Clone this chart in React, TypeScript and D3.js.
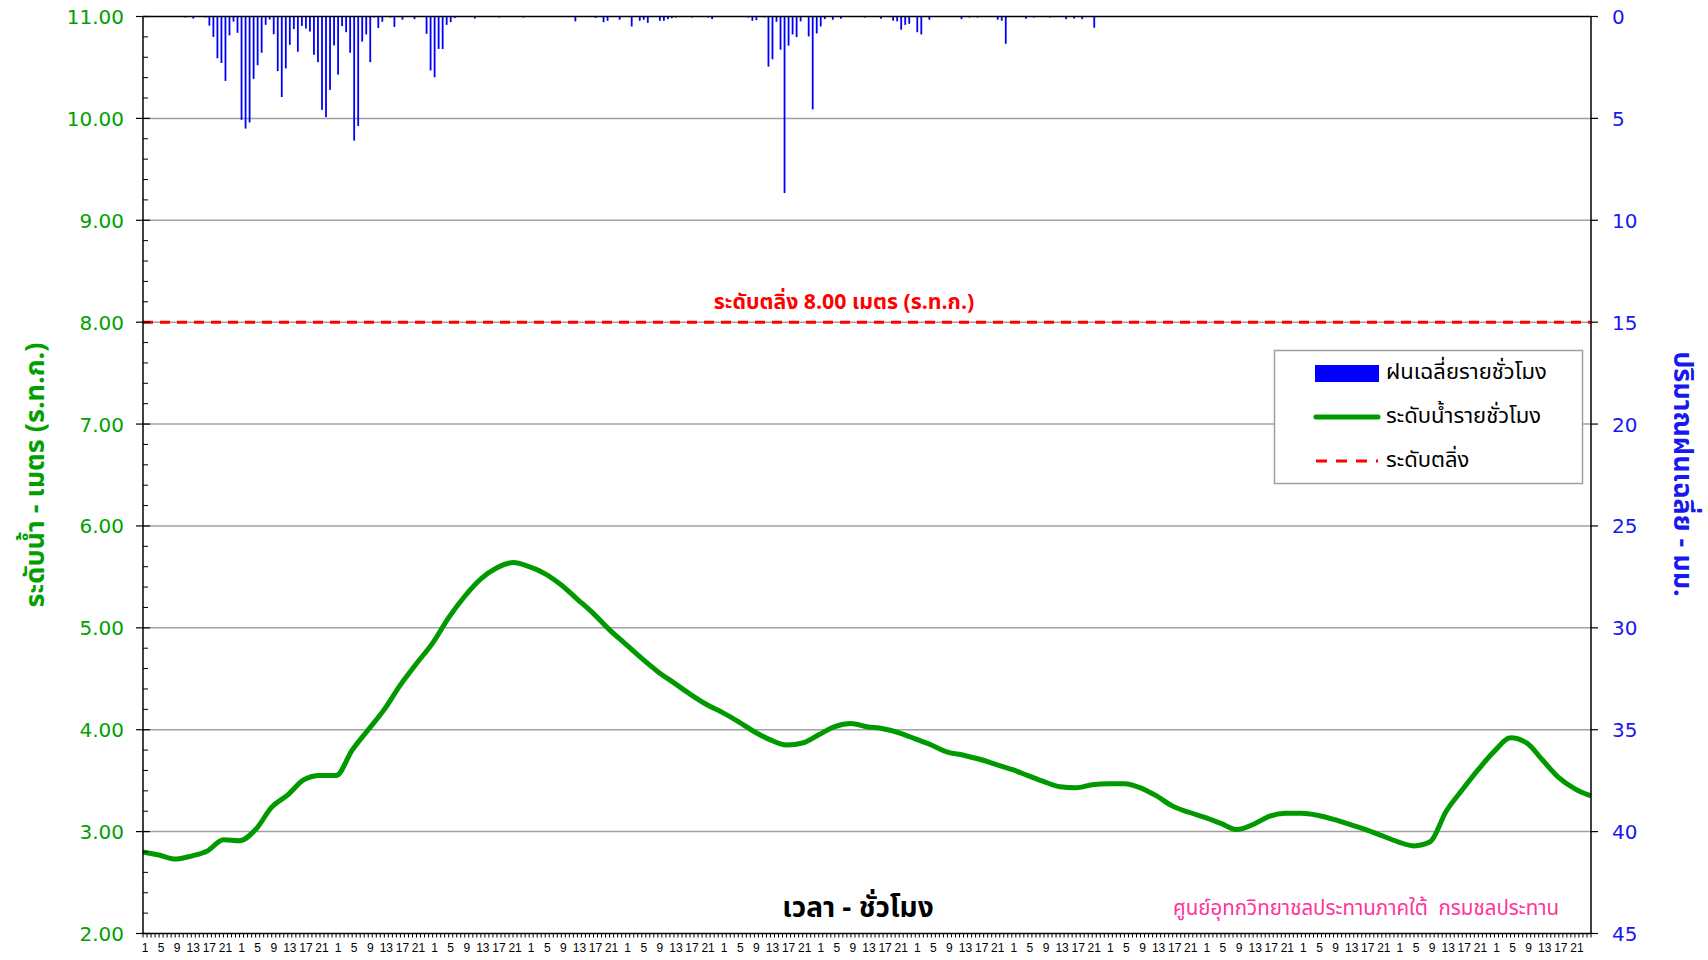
import React from "react";
import * as d3 from "d3";

// ---------- DATA ----------
const DAYS = 15;
const HOURS_PER_DAY = 24;
const hourTickLabels = ["1", "5", "9", "13", "17", "21"];
const levelTicks = [2, 3, 4, 5, 6, 7, 8, 9, 10, 11];
const rainTicks = [0, 5, 10, 15, 20, 25, 30, 35, 40, 45];
const bankLevel = 8.0;

// water level (m, MSL) read every 4 hours, hour 0 .. 360
const levelStepHours = 4;
const waterLevel = [
  2.80, 2.77, 2.73, 2.76, 2.81, 2.92, 2.91, 3.02, 3.24, 3.36,
  3.51, 3.55, 3.55, 3.80, 4.00, 4.20, 4.44, 4.65, 4.85, 5.10,
  5.31, 5.48, 5.59, 5.64, 5.60, 5.53, 5.42, 5.28, 5.14, 4.98,
  4.84, 4.70, 4.57, 4.46, 4.35, 4.25, 4.17, 4.08, 3.98, 3.90,
  3.85, 3.87, 3.95, 4.03, 4.06, 4.03, 4.01, 3.97, 3.91, 3.85,
  3.78, 3.75, 3.71, 3.66, 3.61, 3.55, 3.49, 3.44, 3.43, 3.46,
  3.47, 3.47, 3.43, 3.35, 3.25, 3.19, 3.14, 3.08, 3.02, 3.07,
  3.15, 3.18, 3.18, 3.16, 3.12, 3.07, 3.02, 2.96, 2.90, 2.86,
  2.90, 3.20, 3.41, 3.61, 3.79, 3.92, 3.87, 3.70, 3.53, 3.42,
  3.35,
];

// hourly rainfall (mm): hour index and value
const rainHour = [
  10, 12, 15, 16, 17, 18, 19, 20, 21, 22, 23, 24, 25, 26, 27, 28, 29, 30, 31, 32,
  33, 34, 35, 36, 37, 38, 39, 40, 41, 42, 43, 44, 45, 46, 47, 48, 49, 50, 51, 52,
  53, 54, 55, 56, 57, 58, 59, 61, 62, 63, 64, 67, 70, 71, 72, 73, 74, 75, 76, 77,
  82, 88, 94, 107, 112, 114, 115, 118, 121, 123, 124, 125, 128, 129, 130, 131, 132, 136, 140, 141,
  150, 151, 152, 154, 155, 156, 157, 158, 159, 160, 161, 162, 163, 165, 166, 167, 168, 169, 171, 173,
  179, 183, 186, 187, 188, 189, 190, 192, 193, 195, 203, 205, 207, 212, 213, 214, 219, 221, 225, 226,
  229, 231, 233, 234, 236,
];
const rainMm = [
  0.05, 0.1, 0.05, 0.45, 1.0, 2.05, 2.28, 3.16, 0.93, 0.25, 0.8, 5.07, 5.5, 5.2, 3.06, 2.39, 1.78, 0.41, 0.15, 0.87,
  2.68, 3.95, 2.55, 1.39, 0.62, 1.73, 0.46, 0.59, 0.74, 1.88, 2.24, 4.58, 4.94, 3.6, 1.42, 2.85, 0.47, 0.77, 1.78, 6.09,
  5.37, 1.23, 0.88, 2.24, 0.05, 0.56, 0.26, 0.05, 0.51, 0.03, 0.16, 0.13, 0.85, 2.65, 2.98, 1.59, 1.6, 0.41, 0.28, 0.08,
  0.1, 0.05, 0.05, 0.24, 0.07, 0.28, 0.21, 0.16, 0.49, 0.21, 0.16, 0.31, 0.21, 0.21, 0.13, 0.08, 0.05, 0.05, 0.05, 0.13,
  0.05, 0.21, 0.18, 0.05, 2.46, 2.1, 0.26, 1.63, 8.66, 1.43, 0.88, 1.01, 0.24, 0.98, 4.56, 0.83, 0.49, 0.13, 0.16, 0.11,
  0.05, 0.11, 0.21, 0.24, 0.65, 0.41, 0.36, 0.77, 0.88, 0.16, 0.13, 0.05, 0.05, 0.16, 0.21, 1.34, 0.11, 0.05, 0.05, 0.03,
  0.13, 0.1, 0.13, 0.03, 0.55,
];

// texts
const leftTitle = "ระดับน้ำ - เมตร (ร.ท.ก.)";
const rightTitle = "ปริมาณฝนเฉลี่ย - มม.";
const xTitle = "เวลา - ชั่วโมง";
const bankLabel = "ระดับตลิ่ง 8.00 เมตร (ร.ท.ก.)";
const credit = "ศูนย์อุทกวิทยาชลประทานภาคใต้\u00A0\u00A0กรมชลประทาน";
const legendItems = ["ฝนเฉลี่ยรายชั่วโมง", "ระดับน้ำรายชั่วโมง", "ระดับตลิ่ง"];

// ---------- LAYOUT ----------
const W = 1708;
const H = 960;
const L = 143;
const R = 1591;
const T = 16.5;
const B = 933.5;

const GREEN_TXT = "#00A000";
const GREEN_LINE = "#009A00";
const BLUE = "#0000FF";
const BLUE_TXT = "#1818F0";
const RED = "#FF0000";
const PINK = "#FF3399";
const GRID = "#A0A0A0";
const THAI = "Tahoma, 'Noto Sans Thai', 'Noto Sans', 'DejaVu Sans', sans-serif";
const NUM = "'DejaVu Sans', Verdana, sans-serif";

export default function App() {
  const totalHours = DAYS * HOURS_PER_DAY;
  const x = d3.scaleLinear().domain([0, totalHours]).range([L, R]);
  const y = d3.scaleLinear().domain([2, 11]).range([B, T]);
  const yr = d3.scaleLinear().domain([0, 45]).range([T, B]);

  const line = d3
    .line<number>()
    .x((_, i) => x(i * levelStepHours))
    .y((d) => y(d))
    .curve(d3.curveMonotoneX);

  const minorLevel = d3.range(2, 11.001, 0.2).filter((v) => Math.abs(v - Math.round(v)) > 0.01);

  const hourTicks = d3.range(0, totalHours + 1);
  const labels: { i: number; t: string }[] = [];
  for (let i = 0; i < totalHours; i++) {
    const h = (i % HOURS_PER_DAY) + 1;
    const t = String(h);
    if (hourTickLabels.includes(t)) labels.push({ i, t });
  }

  const legX = 1274.5, legY = 350.5, legW = 308, legH = 133;

  return (
    <svg
      width={W}
      height={H}
      style={{ position: "absolute", left: 0, top: 0, background: "#fff" }}
      xmlns="http://www.w3.org/2000/svg"
    >
      <rect x={0} y={0} width={W} height={H} fill="#fff" />
      {/* grid lines */}
      {levelTicks.slice(1, -1).map((v) => (
        <line key={"g" + v} x1={L} x2={R} y1={y(v)} y2={y(v)} stroke={GRID} strokeWidth={1.5} />
      ))}
      {/* rain bars */}
      {rainHour.map((h, k) => (
        <rect
          key={"r" + k}
          x={x(h + 0.5) - 0.9}
          y={yr(0)}
          width={1.8}
          height={yr(rainMm[k]) - yr(0)}
          fill={BLUE}
        />
      ))}
      {/* bank level */}
      <line
        x1={L}
        x2={R}
        y1={y(bankLevel)}
        y2={y(bankLevel)}
        stroke={RED}
        strokeWidth={3}
        strokeDasharray="10 7"
      />
      <text
        x={844}
        y={y(bankLevel) - 13}
        textAnchor="middle"
        fill={RED}
        fontFamily={THAI}
        fontWeight="bold"
        fontSize={21.3}
      >
        {bankLabel}
      </text>
      {/* water level line */}
      <path d={line(waterLevel) || ""} fill="none" stroke={GREEN_LINE} strokeWidth={5} strokeLinejoin="round" />

      {/* frame */}
      <line x1={L} x2={R} y1={T} y2={T} stroke="#000" strokeWidth={1.5} />
      <line x1={L} x2={R} y1={B} y2={B} stroke="#000" strokeWidth={1.5} />
      <line x1={L} x2={L} y1={T} y2={B} stroke="#000" strokeWidth={1.5} />
      <line x1={R} x2={R} y1={T} y2={B} stroke="#000" strokeWidth={1.5} />

      {/* left axis ticks */}
      {levelTicks.map((v) => (
        <g key={"lt" + v}>
          <line x1={L - 7} x2={L + 7} y1={y(v)} y2={y(v)} stroke="#000" strokeWidth={1.2} />
          <text
            x={L - 19}
            y={y(v) + 7.5}
            textAnchor="end"
            fill={GREEN_TXT}
            fontFamily={NUM}
            fontSize={20}
          >
            {v.toFixed(2)}
          </text>
        </g>
      ))}
      {minorLevel.map((v) => (
        <line key={"lm" + v} x1={L} x2={L + 5} y1={y(v)} y2={y(v)} stroke="#000" strokeWidth={1} />
      ))}
      {/* right axis ticks */}
      {rainTicks.map((v) => (
        <g key={"rt" + v}>
          <line x1={R} x2={R + 7} y1={yr(v)} y2={yr(v)} stroke="#000" strokeWidth={1.2} />
          <text x={R + 21} y={yr(v) + 7.5} textAnchor="start" fill={BLUE_TXT} fontFamily={NUM} fontSize={20}>
            {v}
          </text>
        </g>
      ))}
      {/* bottom ticks */}
      {hourTicks.map((i) => (
        <line key={"bt" + i} x1={x(i)} x2={x(i)} y1={B} y2={B + 4} stroke="#000" strokeWidth={1} />
      ))}
      {labels.map((d) => (
        <text
          key={"bl" + d.i}
          x={x(d.i + 0.5)}
          y={952}
          textAnchor="middle"
          fontFamily="'Liberation Sans', Arial, sans-serif"
          fontSize={12}
          fill="#000"
        >
          {d.t}
        </text>
      ))}

      {/* axis titles */}
      <text
        transform={`translate(44,475) rotate(-90)`}
        textAnchor="middle"
        fill={GREEN_TXT}
        fontFamily={THAI}
        fontWeight="bold"
        fontSize={27}
      >
        {leftTitle}
      </text>
      <text
        transform={`translate(1674,474) rotate(90)`}
        textAnchor="middle"
        fill={BLUE_TXT}
        fontFamily={THAI}
        fontWeight="bold"
        fontSize={27}
      >
        {rightTitle}
      </text>
      <text x={858} y={917} textAnchor="middle" fill="#000" fontFamily={THAI} fontWeight="bold" fontSize={28}>
        {xTitle}
      </text>
      <text x={1366} y={915} textAnchor="middle" fill={PINK} fontFamily={THAI} fontSize={20.5}>
        {credit}
      </text>

      {/* legend */}
      <rect x={legX} y={legY} width={legW} height={legH} fill="#fff" stroke={GRID} strokeWidth={1.5} />
      <rect x={1315} y={365} width={64} height={17} fill={BLUE} />
      <line x1={1316} x2={1378} y1={417} y2={417} stroke={GREEN_LINE} strokeWidth={5} strokeLinecap="round" />
      <line x1={1316} x2={1378} y1={461} y2={461} stroke={RED} strokeWidth={3} strokeDasharray="11 9" />
      {legendItems.map((t, k) => (
        <text key={"li" + k} x={1386} y={379 + k * 44} fill="#000" fontFamily={THAI} fontSize={22}>
          {t}
        </text>
      ))}
    </svg>
  );
}
